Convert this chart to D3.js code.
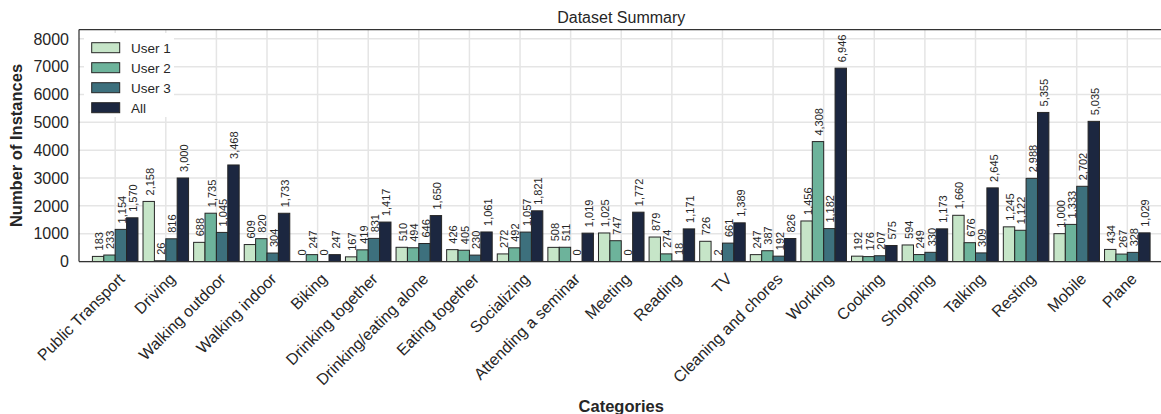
<!DOCTYPE html>
<html>
<head>
<meta charset="utf-8">
<script src="https://cdn.jsdelivr.net/npm/d3@7"></script>
<style>
  body { margin: 0; background: #fff; }
  svg text { font-family: "Liberation Sans", Arial, sans-serif; }
</style>
</head>
<body>
<svg id="chart" width="1161" height="414"></svg>
<script>
// Activity categories and per-user instance counts
const categories = ["Public Transport", "Driving", "Walking outdoor", "Walking indoor", "Biking",
  "Drinking together", "Drinking/eating alone", "Eating together", "Socializing", "Attending a seminar",
  "Meeting", "Reading", "TV", "Cleaning and chores", "Working", "Cooking", "Shopping", "Talking",
  "Resting", "Mobile", "Plane"];
const user1 = [183, 2158, 688, 609, 0, 167, 510, 426, 272, 508, 1025, 879, 726, 247, 1456, 192, 594, 1660, 1245, 1000, 434];
const user2 = [233, 26, 1735, 820, 247, 419, 494, 405, 492, 511, 747, 274, 2, 387, 4308, 176, 249, 676, 1122, 1333, 267];
const user3 = [1154, 816, 1045, 304, 0, 831, 646, 230, 1057, 0, 0, 18, 661, 192, 1182, 207, 330, 309, 2988, 2702, 328];
const allUsers = [1570, 3000, 3468, 1733, 247, 1417, 1650, 1061, 1821, 1019, 1772, 1171, 1389, 826, 6946, 575, 1173, 2645, 5355, 5035, 1029];
const seriesNames = ["User 1", "User 2", "User 3", "All"];
const seriesColors = ["#c6e5c8", "#6db39b", "#3d707d", "#1c2740"];
const yTicks = [0, 1000, 2000, 3000, 4000, 5000, 6000, 7000, 8000];

const series = [user1, user2, user3, allUsers];

const svg = d3.select("#chart");
const plotLeft = 79, plotRight = 1163.5, plotTop = 29.5, plotBottom = 261.5;

const x = d3.scaleLinear().domain([-0.715, categories.length - 1 + 0.715]).range([plotLeft, plotRight]);
const y = d3.scaleLinear().domain([0, 8335]).range([plotBottom, plotTop]);

const groupWidth = 0.9;
const barW = groupWidth / series.length;

// grid
const grid = svg.append("g");
grid.selectAll("line.h").data(yTicks).join("line").attr("class", "h")
  .attr("x1", plotLeft).attr("x2", plotRight)
  .attr("y1", d => y(d)).attr("y2", d => y(d))
  .attr("stroke", "#e5e5e5").attr("stroke-width", 1.5);
grid.selectAll("line.v").data(categories).join("line").attr("class", "v")
  .attr("x1", (d, i) => x(i)).attr("x2", (d, i) => x(i))
  .attr("y1", plotTop).attr("y2", plotBottom)
  .attr("stroke", "#e5e5e5").attr("stroke-width", 1.5);

// bars with rotated value labels
series.forEach((vals, s) => {
  const g = svg.append("g");
  g.selectAll("rect").data(vals).join("rect")
    .attr("x", (d, i) => x(i - groupWidth / 2 + s * barW))
    .attr("width", x(barW) - x(0))
    .attr("y", d => y(d))
    .attr("height", d => y(0) - y(d))
    .attr("fill", seriesColors[s])
    .attr("stroke", "#262626").attr("stroke-width", 1);
  g.selectAll("text").data(vals).join("text")
    .attr("transform", (d, i) => {
      const cx = x(i - groupWidth / 2 + (s + 0.5) * barW);
      return `translate(${cx + 5},${y(d) - 6}) rotate(-90)`;
    })
    .attr("font-size", 11)
    .attr("fill", "#262626")
    .text(d => d3.format(",")(d));
});

// spines
svg.append("line").attr("x1", plotLeft).attr("x2", plotLeft).attr("y1", plotTop).attr("y2", plotBottom)
  .attr("stroke", "#333").attr("stroke-width", 1.25);
svg.append("line").attr("x1", plotLeft).attr("x2", plotRight).attr("y1", plotTop).attr("y2", plotTop)
  .attr("stroke", "#333").attr("stroke-width", 1.25);
svg.append("line").attr("x1", plotLeft).attr("x2", plotRight).attr("y1", plotBottom).attr("y2", plotBottom)
  .attr("stroke", "#333").attr("stroke-width", 1.25);

// y tick labels
svg.append("g").selectAll("text").data(yTicks).join("text")
  .attr("x", plotLeft - 10).attr("y", d => y(d)).attr("dy", "0.36em")
  .attr("text-anchor", "end").attr("font-size", 16).attr("fill", "#262626")
  .text(d => d);

// x tick labels, rotated 45 degrees and right-aligned under each group
svg.append("g").selectAll("text").data(categories).join("text")
  .attr("transform", (d, i) => `translate(${x(i) + 10.5},${plotBottom + 18.5}) rotate(-45)`)
  .attr("text-anchor", "end").attr("font-size", 16).attr("fill", "#262626")
  .text(d => d);

// titles
svg.append("text").attr("x", (plotLeft + plotRight) / 2).attr("y", 22.5)
  .attr("text-anchor", "middle").attr("font-size", 16).attr("fill", "#262626")
  .text("Dataset Summary");
svg.append("text").attr("x", (plotLeft + plotRight) / 2).attr("y", 411.5)
  .attr("text-anchor", "middle").attr("font-size", 16.5).attr("font-weight", "bold").attr("fill", "#262626")
  .text("Categories");
svg.append("text").attr("transform", `translate(22,${(plotTop + plotBottom) / 2}) rotate(-90)`)
  .attr("text-anchor", "middle").attr("font-size", 16.5).attr("font-weight", "bold").attr("fill", "#262626")
  .text("Number of Instances");

// legend
const legend = svg.append("g");
legend.append("rect").attr("x", 84).attr("y", 33).attr("width", 90).attr("height", 84).attr("fill", "#fff");
seriesNames.forEach((name, s) => {
  const cy = 47.7 + s * 20;
  legend.append("rect").attr("x", 91.7).attr("y", cy - 5).attr("width", 28).attr("height", 10)
    .attr("fill", seriesColors[s]).attr("stroke", "#262626").attr("stroke-width", 1);
  legend.append("text").attr("x", 131).attr("y", cy).attr("dy", "0.36em")
    .attr("font-size", 13.5).attr("fill", "#262626").text(name);
});
</script>
</body>
</html>
